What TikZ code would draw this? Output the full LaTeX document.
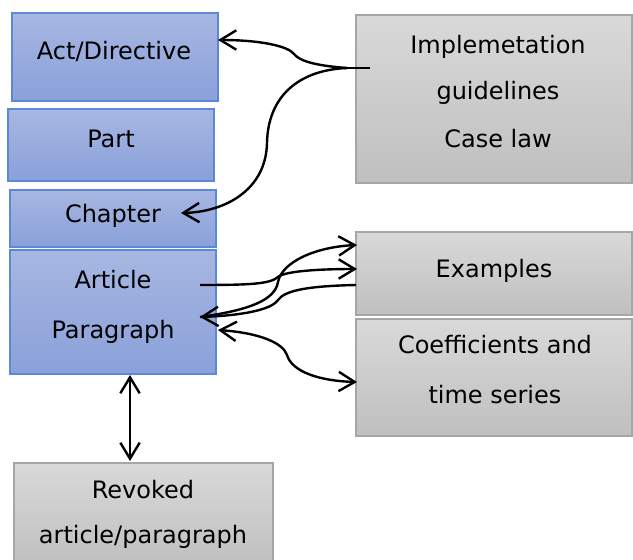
\documentclass[tikz,border=0pt]{standalone}
\usepackage{fontspec}
\setmainfont{DejaVu Sans}
\usetikzlibrary{arrows.meta}
\definecolor{blueTop}{HTML}{A8B7E2}
\definecolor{blueBot}{HTML}{89A0D9}
\definecolor{blueLine}{HTML}{5B89D8}
\definecolor{grayTop}{HTML}{D9D9D9}
\definecolor{grayBot}{HTML}{BFBFBF}
\definecolor{grayLine}{HTML}{A6A6A6}
\begin{document}
\begin{tikzpicture}[x=0.75pt,y=-0.75pt,
  box/.style={line width=1pt, inner sep=0pt, rectangle},
  bluebox/.style={box, draw=blueLine, top color=blueTop, bottom color=blueBot},
  graybox/.style={box, draw=grayLine, top color=grayTop, bottom color=grayBot},
  lbl/.style={anchor=base, inner sep=0pt, font=\fontsize{18}{21}\selectfont},
  tip/.tip={Straight Barb[length=12pt,width=14.5pt,line width=1.8pt]},
  link/.style={line width=1.8pt, -tip},
  linkboth/.style={line width=1.8pt, tip-tip},
]
\clip (0,0) rectangle (633,560);
\fill[white] (0,0) rectangle (633,560);

% left column: levels of the legal text
\node[bluebox, minimum width=154.5pt, minimum height=66pt]   (act)  at (115,57)    {};
\node[bluebox, minimum width=154.5pt, minimum height=54pt]   (part) at (111,145)   {};
\node[bluebox, minimum width=154.5pt, minimum height=42.75pt] (chap) at (113,218.5) {};
\node[bluebox, minimum width=154.5pt, minimum height=93pt]   (art)  at (113,312)   {};
\node[graybox, minimum width=194.25pt, minimum height=77.25pt] (rev) at (143.5,514.5) {};

% right column: supporting material
\node[graybox, minimum width=207pt, minimum height=126pt]   (impl) at (494,99)    {};
\node[graybox, minimum width=207pt, minimum height=62.25pt] (exa)  at (494,273.5) {};
\node[graybox, minimum width=207pt, minimum height=87.75pt] (coef) at (494,377.5) {};

% labels
\node[lbl] (actT)  at (114,60)  {Act/Directive};
\node[lbl] (partT) at (111,148) {Part};
\node[lbl] (chapT) at (113,223) {Chapter};
\node[lbl] (artT1) at (113,288) {Article};
\node[lbl] (artT2) at (113,338) {Paragraph};
\node[lbl] (revT1) at (143,498) {Revoked};
\node[lbl] (revT2) at (143,543) {article/paragraph};
\node[lbl] (implT1) at (498,54)  {Implemetation};
\node[lbl] (implT2) at (498,100) {guidelines};
\node[lbl] (implT3) at (498,148) {Case law};
\node[lbl] (exaT)  at (494,277) {Examples};
\node[lbl] (coefT1) at (495,353) {Coefficients and};
\node[lbl] (coefT2) at (495,403) {time series};

% connector end points
\coordinate (implOut) at (370,68);
\coordinate (split)   at (347,68);
\coordinate (actIn)   at (218,40);
\coordinate (chapIn)  at (181,213);
\coordinate (artOut)  at (200,285);
\coordinate (artIn)   at (200,317);
\coordinate (artSide) at (218,330);
\coordinate (exaTop)  at (357,245);
\coordinate (exaMid)  at (357,269);
\coordinate (exaLow)  at (356,285);
\coordinate (coefIn)  at (357,382);
\coordinate (artBot)  at (130,375);
\coordinate (revTop)  at (130,461);

% guidelines and case law refer to act and chapter
\draw[line width=1.8pt] (implOut) -- (split);
\draw[link] (split) .. controls (320,66) and (300,62) .. (294,54)
            .. controls (288,46) and (260,40) .. (actIn);
\draw[link] (split) .. controls (300,70) and (268,95) .. (267,143)
            .. controls (266,190) and (225,212) .. (chapIn);

% article and examples
\draw[link] (artOut) .. controls (250,285) and (270,284) .. (278,277)
            .. controls (285,271) and (320,269) .. (exaMid);
\draw[link] (exaLow) .. controls (310,286) and (285,290) .. (278,300)
            .. controls (270,312) and (230,316) .. (artIn);
\draw[link] (artIn) .. controls (250,310) and (275,300) .. (278,282)
            .. controls (282,262) and (315,247) .. (exaTop);

% article and coefficients
\draw[linkboth] (artSide) .. controls (260,333) and (283,343) .. (287,355)
                .. controls (292,372) and (320,381) .. (coefIn);

% article and revoked article
\draw[linkboth] (artBot) -- (revTop);
\end{tikzpicture}
\end{document}
